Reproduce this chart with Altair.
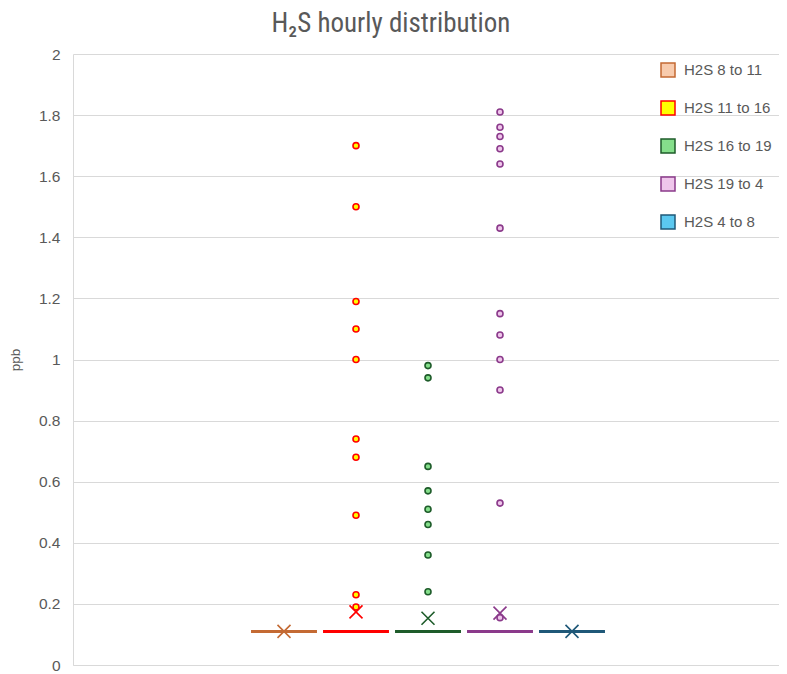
import altair as alt
import pandas as pd

series = ["H2S 8 to 11", "H2S 11 to 16", "H2S 16 to 19", "H2S 19 to 4", "H2S 4 to 8"]
box_level = [0.11, 0.11, 0.11, 0.11, 0.11]
means = [0.11, 0.174, 0.153, 0.17, 0.11]
out_8_11 = []
out_11_16 = [1.70, 1.50, 1.19, 1.10, 1.00, 0.74, 0.68, 0.49, 0.23, 0.19]
out_16_19 = [0.98, 0.94, 0.65, 0.57, 0.51, 0.46, 0.36, 0.24]
out_19_4 = [1.81, 1.76, 1.73, 1.69, 1.64, 1.43, 1.15, 1.08, 1.00, 0.90, 0.53, 0.155]
out_4_8 = []
y_ticks = [0, 0.2, 0.4, 0.6, 0.8, 1.0, 1.2, 1.4, 1.6, 1.8, 2.0]

fills = ["#F8CBAD", "#FFFF00", "#85DF8B", "#EFC6EB", "#5BC8F0"]
strokes = ["#C46A33", "#FF0000", "#1E5C2A", "#8B3A8B", "#1F5878"]

W, H = 706, 611
half = 0.458
xdom = [-211 / 72, (W - 211) / 72]

box_df = pd.DataFrame({"series": series, "pos": list(range(5)), "value": box_level})
mean_df = pd.DataFrame({"series": series, "pos": list(range(5)), "value": means})
rows = []
for i, vals in enumerate([out_8_11, out_11_16, out_16_19, out_19_4, out_4_8]):
    for v in vals:
        rows.append({"series": series[i], "pos": i, "value": v})
out_df = pd.DataFrame(rows)

grey = "#595959"
font = "Liberation Sans"
xscale = alt.Scale(domain=xdom, nice=False, zero=False)
yscale = alt.Scale(domain=[0, 2], nice=False)
fill_scale = alt.Scale(domain=series, range=fills)
stroke_scale = alt.Scale(domain=series, range=strokes)

legend = alt.Legend(
    title=None, orient="none", legendX=587, legendY=8, symbolType="square", symbolSize=196,
    symbolStrokeWidth=1.5, labelFontSize=15, labelColor=grey, labelFont=font,
    labelOffset=8, rowPadding=18, padding=0, symbolOpacity=1, values=series,
)

y_enc = alt.Y(
    "value:Q",
    scale=yscale,
    title="ppb",
    axis=alt.Axis(
        values=y_ticks, format="~g", grid=True, gridColor="#D9D9D9", ticks=False,
        domainColor="#D9D9D9", labelPadding=13, labelColor=grey, labelFontSize=15.5,
        labelFont=font, titleColor=grey, titleFontSize=13.5,
        titleFont=font, titleFontWeight="normal", titleX=-58, titleY=H / 2,
        titleBaseline="middle", titleAlign="center",
    ),
)
x_axis = alt.Axis(labels=False, ticks=False, grid=False, title=None, domainColor="#D9D9D9")

boxes = alt.Chart(box_df).mark_rule(strokeWidth=3, strokeCap="butt").transform_calculate(
    lo=f"datum.pos - {half}", hi=f"datum.pos + {half}"
).encode(
    x=alt.X("lo:Q", scale=xscale, axis=x_axis),
    x2="hi:Q",
    y=y_enc,
    stroke=alt.Stroke("series:N", scale=stroke_scale, legend=legend),
)

means_layer = alt.Chart(mean_df).mark_point(
    shape="M-1,-1L1,1M-1,1L1,-1", filled=False, size=169, strokeWidth=1.6, opacity=1
).encode(
    x=alt.X("pos:Q", scale=xscale, axis=x_axis),
    y=y_enc,
    stroke=alt.Stroke("series:N", scale=stroke_scale, legend=legend),
)

points = alt.Chart(out_df).mark_point(
    shape="circle", filled=True, size=36, strokeWidth=1.6, opacity=1
).encode(
    x=alt.X("pos:Q", scale=xscale, axis=x_axis),
    y=y_enc,
    fill=alt.Fill("series:N", scale=fill_scale, legend=legend),
    stroke=alt.Stroke("series:N", scale=stroke_scale, legend=legend),
)

chart = alt.layer(boxes, means_layer, points).properties(
    width=W,
    height=H,
    padding={"left": 65, "top": 46, "right": 0, "bottom": 8},
    autosize=alt.AutoSizeParams(type="none"),
    title=alt.TitleParams(
        "H₂S hourly distribution", fontSize=27, font="Liberation Sans Narrow, Roboto Condensed, Liberation Sans",
        color=grey, fontWeight="normal", anchor="middle", frame="group", dx=-35, offset=9,
    ),
).configure_view(stroke=None)

chart.save("out.html", embed_options={"renderer": "svg", "actions": False})
